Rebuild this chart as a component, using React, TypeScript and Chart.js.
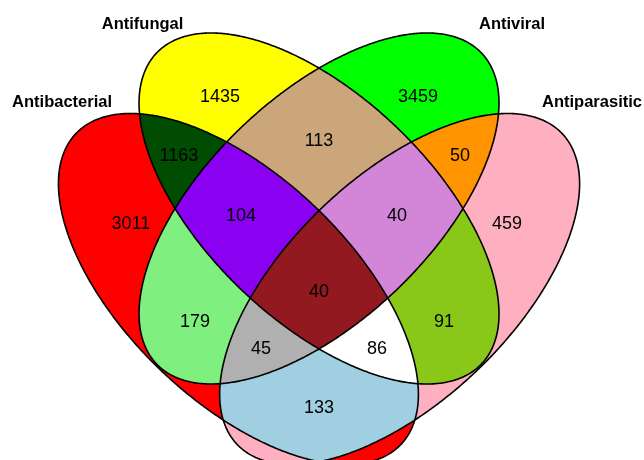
import React, { useEffect, useRef } from "react";
import { Chart, registerables } from "chart.js";

Chart.register(...registerables);

// Sets (A = Antibacterial, B = Antifungal, C = Antiviral, D = Antiparasitic)
const setNames = ["Antibacterial", "Antifungal", "Antiviral", "Antiparasitic"];
const setLabelX = [60.5, 139, 499.3, 577.3];
const setLabelY = [353, 431.5, 431.5, 353];

// Ellipses (data units)
const ellipseCX = [232.5, 311.1, 311.1, 389.7];
const ellipseCY = [171, 251.5, 251.5, 171];
const ellipseA = [222, 222, 222, 222];
const ellipseB = [111, 111, 111, 111];
const ellipseAngle = [-45, -45, 45, 45];

// Regions: membership flags in order A B C D
const regionKeys = [
  "1000", "0100", "0010", "0001",
  "1100", "0110", "0011", "1010", "0101", "1001",
  "1110", "0111", "1011", "1101", "1111",
];
const regionCounts = [3011, 1435, 3459, 459, 1163, 113, 50, 179, 91, 133, 104, 40, 45, 86, 40];
const regionLabelX = [127.7, 214.5, 407.6, 494.4, 174.5, 311.1, 448.6, 190.2, 433, 311.1, 235, 387.1, 254.5, 367.6, 311.1];
const regionLabelY = [238, 365, 365, 238, 306, 321, 306, 140, 140, 54, 246, 246, 113, 113, 170];
const regionColors = [
  "#FF0000", "#FFFF00", "#00FF00", "#FFB0C0",
  "#004C00", "#CBA67B", "#FF9300", "#7FEF7F", "#89C818", "#9FCFE0",
  "#8A00F0", "#D385D8", "#B0B0B0", "#FFFFFF", "#931920",
];

const vennPlugin = {
  id: "vennPlugin",
  afterDraw(chart: any) {
    const ctx: CanvasRenderingContext2D = chart.ctx;
    const xs = chart.scales.x;
    const ys = chart.scales.y;
    const W = chart.width;
    const H = chart.height;

    const paths = ellipseCX.map((cx, i) => {
      const p = new Path2D();
      const th = (ellipseAngle[i] * Math.PI) / 180;
      const N = 720;
      for (let k = 0; k <= N; k++) {
        const t = (k / N) * 2 * Math.PI;
        const dx = ellipseA[i] * Math.cos(t) * Math.cos(th) - ellipseB[i] * Math.sin(t) * Math.sin(th);
        const dy = ellipseA[i] * Math.cos(t) * Math.sin(th) + ellipseB[i] * Math.sin(t) * Math.cos(th);
        const px = xs.getPixelForValue(cx + dx);
        const py = ys.getPixelForValue(ellipseCY[i] + dy);
        if (k === 0) p.moveTo(px, py);
        else p.lineTo(px, py);
      }
      p.closePath();
      return p;
    });
    const outside = paths.map((p) => {
      const q = new Path2D();
      q.rect(-20, -20, W + 40, H + 40);
      q.addPath(p);
      return q;
    });

    regionKeys.forEach((key, r) => {
      ctx.save();
      for (let i = 0; i < 4; i++) {
        if (key[i] === "1") ctx.clip(paths[i]);
        else ctx.clip(outside[i], "evenodd");
      }
      ctx.fillStyle = regionColors[r];
      ctx.fillRect(0, 0, W, H);
      ctx.restore();
    });

    ctx.save();
    ctx.strokeStyle = "#000000";
    ctx.lineWidth = 1.6;
    paths.forEach((p) => ctx.stroke(p));

    ctx.fillStyle = "#000000";
    ctx.textAlign = "center";
    ctx.textBaseline = "alphabetic";
    ctx.font = "18px 'Liberation Sans', Arial, sans-serif";
    regionCounts.forEach((v, r) => {
      const px = xs.getPixelForValue(regionLabelX[r]);
      const py = ys.getPixelForValue(regionLabelY[r]);
      ctx.fillText(String(v), px, py + 6.5);
    });

    ctx.font = "bold 16.5px 'Liberation Sans', Arial, sans-serif";
    setNames.forEach((name, i) => {
      ctx.fillText(name, xs.getPixelForValue(setLabelX[i]), ys.getPixelForValue(setLabelY[i]));
    });
    ctx.restore();
  },
};

export default function App() {
  const canvasRef = useRef<HTMLCanvasElement | null>(null);

  useEffect(() => {
    if (!canvasRef.current) return;
    const chart = new Chart(canvasRef.current, {
      type: "scatter",
      data: {
        datasets: [
          {
            label: "regions",
            data: regionCounts.map((_, r) => ({ x: regionLabelX[r], y: regionLabelY[r] })),
            pointRadius: 0,
            pointHoverRadius: 0,
          },
        ],
      },
      options: {
        responsive: false,
        animation: false,
        events: [],
        layout: { padding: 0 },
        plugins: {
          legend: { display: false },
          title: { display: false },
          tooltip: { enabled: false },
        },
        scales: {
          x: { type: "linear", min: 0, max: 628, display: false },
          y: { type: "linear", min: 0, max: 460, display: false },
        },
      },
      plugins: [vennPlugin],
    });
    return () => chart.destroy();
  }, []);

  return (
    <div style={{ position: "fixed", left: 0, top: 0, width: 644, height: 460, background: "#ffffff" }}>
      <canvas ref={canvasRef} width={644} height={460} style={{ display: "block" }} />
    </div>
  );
}
